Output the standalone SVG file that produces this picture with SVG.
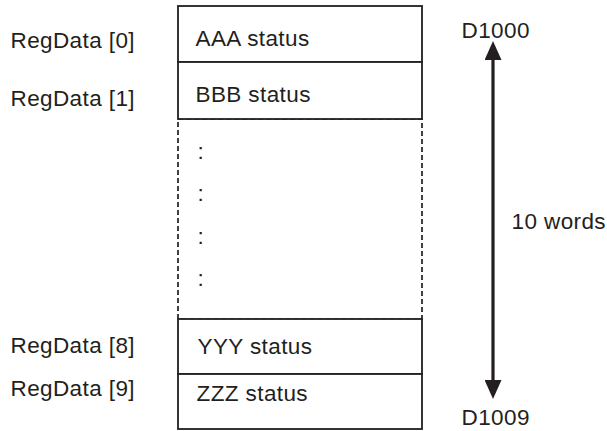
<svg xmlns="http://www.w3.org/2000/svg" width="607" height="431" viewBox="0 0 607 431">
  <style>
    text { font-family: "Liberation Sans", Arial, sans-serif; font-size: 22.5px; letter-spacing: 0.4px; fill: #231f20; }
    .cell { fill: #ffffff; stroke: #231f20; stroke-width: 1.8; }
    .dash { fill: none; stroke: #231f20; stroke-width: 1.7; stroke-dasharray: 5 3; }
    .conn { stroke: #231f20; stroke-width: 3.2; fill: none; }
  </style>
  <defs>
    <marker id="head" viewBox="0 0 19 17" refX="5" refY="8.5" markerWidth="19" markerHeight="17" markerUnits="userSpaceOnUse" orient="auto-start-reverse">
      <path d="M0,0 L19,8.5 L0,17 Z" fill="#231f20"/>
    </marker>
  </defs>
  <rect width="607" height="431" fill="#ffffff"/>

  <g id="labels">
    <text x="10.5" y="47.5">RegData [0]</text>
    <text x="10.5" y="106">RegData [1]</text>
    <text x="10.5" y="352.7">RegData [8]</text>
    <text x="10.5" y="396">RegData [9]</text>
  </g>

  <g id="gap">
    <rect class="dash" x="178" y="119" width="244" height="200"/>
    <text x="197.5" y="158.5">:</text>
    <text x="197.5" y="200.5">:</text>
    <text x="197.5" y="243.5">:</text>
    <text x="197.5" y="286.2">:</text>
  </g>

  <g id="cell0">
    <rect class="cell" x="178" y="6" width="244" height="56"/>
    <text x="195.5" y="46">AAA status</text>
  </g>
  <g id="cell1">
    <rect class="cell" x="178" y="62" width="244" height="57"/>
    <text x="195.5" y="101.7">BBB status</text>
  </g>
  <g id="cell8">
    <rect class="cell" x="178" y="319" width="244" height="55"/>
    <text x="197.5" y="354">YYY status</text>
  </g>
  <g id="cell9">
    <rect class="cell" x="178" y="374" width="244" height="55"/>
    <text x="196.5" y="400.7">ZZZ status</text>
  </g>

  <g id="connectors">
    <line class="conn" x1="493" y1="55" x2="493" y2="385" marker-start="url(#head)" marker-end="url(#head)"/>
  </g>

  <g id="range-labels">
    <text x="461.5" y="37.5">D1000</text>
    <text x="511.5" y="229.3">10 words</text>
    <text x="461.5" y="425">D1009</text>
  </g>
</svg>
